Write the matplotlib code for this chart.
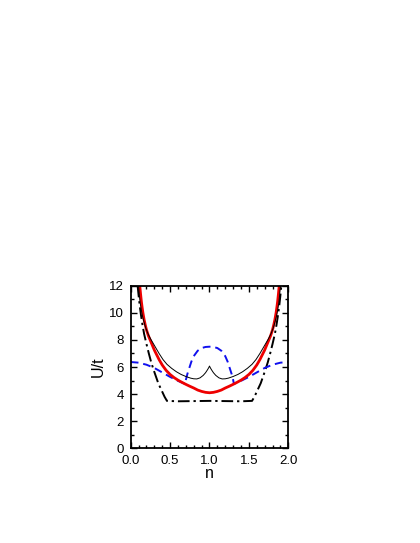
import matplotlib
matplotlib.use('Agg')
import matplotlib.pyplot as plt
from matplotlib.ticker import MultipleLocator, FormatStrFormatter

plt.rcParams['font.family'] = ['Liberation Sans', 'DejaVu Sans']

# red solid curve
n_red = [0.115, 0.125, 0.135, 0.145, 0.155, 0.17, 0.185, 0.2, 0.225, 0.25, 0.275, 0.3, 0.33, 0.36,
         0.4, 0.45, 0.5, 0.55, 0.6, 0.65, 0.7, 0.75, 0.8, 0.85, 0.9, 0.95, 1.0,
         1.05, 1.1, 1.15, 1.2, 1.25, 1.3, 1.35, 1.4, 1.45, 1.5, 1.55, 1.6, 1.64,
         1.67, 1.7, 1.725, 1.75, 1.775, 1.8, 1.815, 1.83, 1.845, 1.855, 1.865, 1.875, 1.885]
u_red = [12.0, 11.4, 10.85, 10.4, 10.0, 9.5, 9.1, 8.75, 8.3, 7.95, 7.6, 7.25, 6.9, 6.55,
         6.15, 5.75, 5.45, 5.22, 5.03, 4.87, 4.72, 4.58, 4.45, 4.3, 4.2, 4.13, 4.1,
         4.13, 4.2, 4.3, 4.45, 4.58, 4.72, 4.87, 5.03, 5.22, 5.45, 5.75, 6.15, 6.55,
         6.9, 7.25, 7.6, 7.95, 8.3, 8.75, 9.1, 9.5, 10.0, 10.4, 10.85, 11.4, 12.0]

# thin black curve with cusp at n=1
n_blk = [0.10, 0.11, 0.12, 0.135, 0.15, 0.17, 0.19, 0.22, 0.25, 0.28, 0.32, 0.36, 0.41, 0.46,
         0.52, 0.58, 0.64, 0.7, 0.76, 0.8, 0.84, 0.88, 0.92, 0.95, 0.975, 0.99, 1.0,
         1.01, 1.025, 1.05, 1.08, 1.12, 1.16, 1.2, 1.24, 1.3, 1.36, 1.42, 1.48, 1.54,
         1.59, 1.64, 1.68, 1.72, 1.75, 1.78, 1.81, 1.83, 1.85, 1.865, 1.88, 1.89, 1.90]
u_blk = [12.0, 11.3, 10.75, 10.2, 9.75, 9.3, 8.9, 8.45, 8.1, 7.8, 7.4, 7.0, 6.55, 6.2,
         5.9, 5.65, 5.45, 5.3, 5.18, 5.13, 5.12, 5.2, 5.38, 5.58, 5.8, 5.95, 6.07,
         5.95, 5.8, 5.58, 5.38, 5.2, 5.12, 5.13, 5.18, 5.3, 5.45, 5.65, 5.9, 6.2,
         6.55, 7.0, 7.4, 7.8, 8.1, 8.45, 8.9, 9.3, 9.75, 10.2, 10.75, 11.3, 12.0]

# blue dashed curve
n_blue = [0.0, 0.1, 0.2, 0.3, 0.4, 0.5, 0.6, 0.69, 0.7, 0.72, 0.745, 0.77, 0.8, 0.85, 0.9, 0.95, 1.0,
          1.05, 1.1, 1.15, 1.2, 1.23, 1.255, 1.28, 1.3, 1.31, 1.4, 1.5, 1.6, 1.7, 1.8, 1.9, 2.0]
u_blue = [6.37, 6.32, 6.17, 5.93, 5.6, 5.27, 4.98, 4.75, 5.05, 5.5, 5.95, 6.4, 6.8, 7.2, 7.4, 7.48, 7.5,
          7.48, 7.4, 7.2, 6.8, 6.4, 5.95, 5.5, 5.05, 4.75, 4.98, 5.27, 5.6, 5.93, 6.17, 6.32, 6.37]

# black dash-dot curve
n_dd = [0.088, 0.1, 0.115, 0.13, 0.15, 0.17, 0.2, 0.23, 0.26, 0.29, 0.32, 0.35, 0.39, 0.43, 0.46,
        0.6, 1.0, 1.4,
        1.54, 1.57, 1.61, 1.65, 1.68, 1.71, 1.74, 1.77, 1.8, 1.83, 1.85, 1.87, 1.885, 1.9, 1.912]
u_dd = [12.0, 11.3, 10.5, 9.85, 9.1, 8.45, 7.7, 7.0, 6.35, 5.8, 5.3, 4.8, 4.3, 3.8, 3.5,
        3.47, 3.5, 3.47,
        3.5, 3.8, 4.3, 4.8, 5.3, 5.8, 6.35, 7.0, 7.7, 8.45, 9.1, 9.85, 10.5, 11.3, 12.0]

fig = plt.figure(figsize=(4.2, 5.43), dpi=100)
ax = fig.add_axes([0.3112, 0.1744, 0.3752, 0.2994])

ax.plot(n_dd, u_dd, color='black', lw=1.4, dashes=(6, 2, 1.2, 2))
ax.plot(n_blue, u_blue, color='#1010ee', lw=1.4, dashes=(4, 2.5))
ax.plot(n_red, u_red, color='#ee0000', lw=2.0)
ax.plot(n_blk, u_blk, color='black', lw=0.7)

ax.set_xlim(0, 2)
ax.set_ylim(0, 12)
ax.xaxis.set_major_locator(MultipleLocator(0.5))
ax.xaxis.set_minor_locator(MultipleLocator(0.1))
ax.yaxis.set_major_locator(MultipleLocator(2))
ax.yaxis.set_minor_locator(MultipleLocator(1))
ax.xaxis.set_major_formatter(FormatStrFormatter('%.1f'))
ax.tick_params(which='both', direction='in', top=True, right=True, width=1.0, labelsize=9.5)
ax.tick_params(axis='x', pad=5)
ax.tick_params(axis='y', pad=5)
ax.tick_params(which='major', length=4)
ax.tick_params(which='minor', length=2)
for s in ax.spines.values():
    s.set_linewidth(1.3)

ax.set_xlabel('n', fontsize=11.5, labelpad=-1)
ax.set_ylabel('U/t', fontsize=11.5, labelpad=2)

plt.savefig('out.png', dpi=100)
